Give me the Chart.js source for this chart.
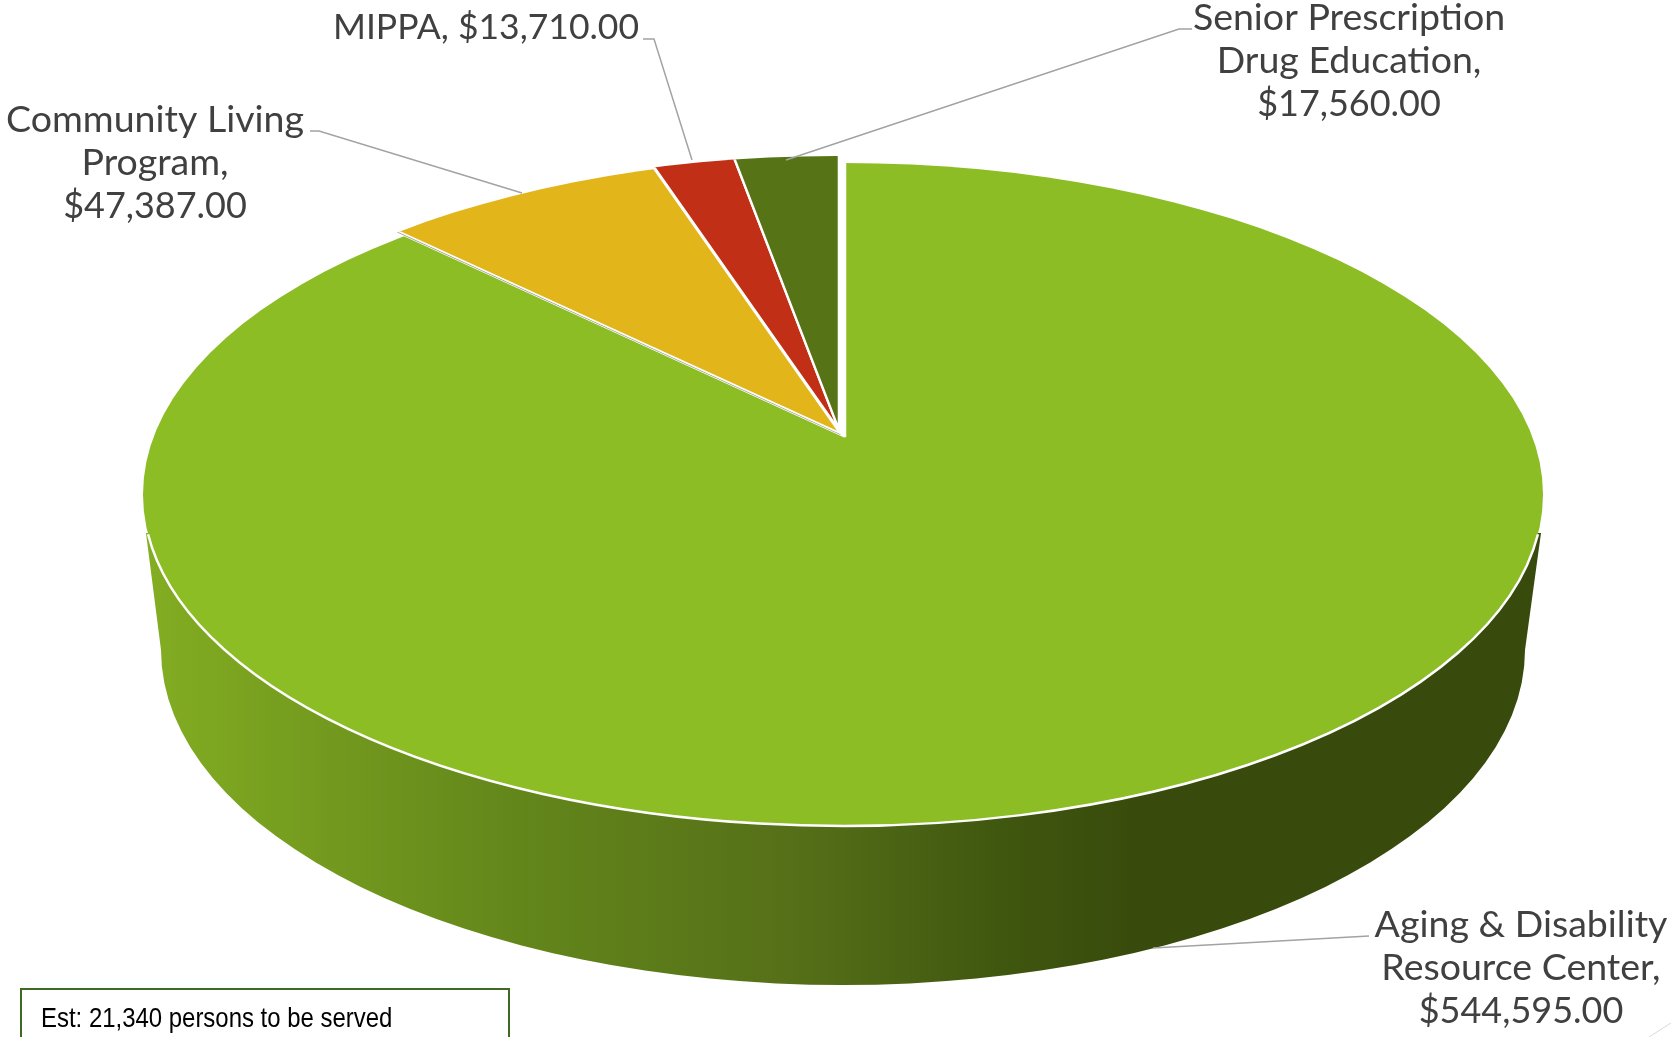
<!DOCTYPE html>
<html lang="en">
<head>
    <meta charset="UTF-8">
    <title>Program funding</title>
    <script src="https://cdn.jsdelivr.net/npm/chart.js"></script>
    <style>
        html, body { margin: 0; padding: 0; background: #fff; overflow: hidden; }
        #wrap { position: relative; width: 1671px; height: 1037px; overflow: hidden; }
        #note {
            position: absolute; left: 20px; top: 988px; width: 486px; height: 70px;
            border: 2px solid #3f6a22; box-sizing: content-box;
            font-family: "Liberation Sans", Arial, sans-serif; font-size: 28px; color: #000;
        }
        #note span { position: absolute; left: 19px; top: 12px; display: block; white-space: nowrap; transform-origin: left top; transform: scaleX(0.855); }
    </style>
</head>
<body>
<div id="wrap">
    <canvas id="pie" width="1671" height="1037"></canvas>
    <div id="note"><span>Est: 21,340 persons to be served</span></div>
</div>
<script>
const categories = ['Aging & Disability Resource Center', 'Community Living Program', 'MIPPA', 'Senior Prescription Drug Education'];
const funding = [544595, 47387, 13710, 17560];
const colors = ['#8cbd24', '#e2b61a', '#c13016', '#567316'];
const labelBreaks = [['Aging & Disability', 'Resource Center,'], ['Community Living', 'Program,'], ['MIPPA,'], ['Senior Prescription', 'Drug Education,']];

// top face of the pie, and where the slices meet
const top3d = { cx: 843, cy: 494.5, rx: 700, ry: 331.5 };
const bottom3d = { cx: 843, cy: 650, rx: 682, ry: 335 };
const mainApex = { x: 845, y: 437 };
const smallShift = { x: -6, y: -7 };
const yellowShift = { x: -1, y: -6 };
const squash = 0.464, stretch = 1.7;

// label centre x, first line centre y, then the leader line
const labelPos = [
    { x: 1521, y: 925, leader: [[1369, 936], [1153, 948]] },
    { x: 155, y: 120, leader: [[310, 131], [319, 131], [522, 193]] },
    { x: 486, y: 28, leader: [[643, 39], [654, 39], [692, 160]] },
    { x: 1349, y: 18, leader: [[1192, 29], [1179, 29], [786, 160]] }
];

function money(v) {
    return '$' + v.toLocaleString('en-US', { minimumFractionDigits: 2 });
}

function drawWall(ctx) {
    const g = ctx.createLinearGradient(146, 0, 1150, 0);
    g.addColorStop(0, '#83ad22');
    g.addColorStop(0.35, '#64881b');
    g.addColorStop(0.65, '#556f18');
    g.addColorStop(0.85, '#40570f');
    g.addColorStop(1, '#384a0c');
    ctx.save();
    ctx.fillStyle = g;
    ctx.beginPath();
    ctx.moveTo(146, 533);
    ctx.lineTo(bottom3d.cx - bottom3d.rx, bottom3d.cy);
    ctx.ellipse(bottom3d.cx, bottom3d.cy, bottom3d.rx, bottom3d.ry, 0, Math.PI, 0, true);
    ctx.lineTo(1541, 533);
    ctx.closePath();
    ctx.fill();
    ctx.restore();
}

function drawRim(ctx) {
    ctx.save();
    ctx.strokeStyle = '#fff';
    ctx.lineWidth = 2.5;
    ctx.beginPath();
    ctx.ellipse(top3d.cx, top3d.cy, top3d.rx, top3d.ry, 0, 0.12, Math.PI - 0.12);
    ctx.stroke();
    ctx.restore();
}

function pieSpace(chart, ctx, apex) {
    const area = chart.chartArea;
    ctx.translate(apex.x, apex.y);
    ctx.scale(stretch, stretch * squash);
    ctx.translate(-(area.left + area.right) / 2, -(area.top + area.bottom) / 2);
}

function clipTop(ctx, shift) {
    ctx.beginPath();
    ctx.ellipse(top3d.cx + shift.x, top3d.cy + shift.y, top3d.rx, top3d.ry, 0, 0, Math.PI * 2);
    ctx.clip();
}

function drawSlice(chart, el, apex, shift) {
    const ctx = chart.ctx;
    ctx.save();
    clipTop(ctx, shift);
    pieSpace(chart, ctx, apex);
    el.draw(ctx);
    ctx.restore();
}

// thin dark seam in the gap between the big slice and the yellow one
function drawSeam(chart, el, apex) {
    const ctx = chart.ctx;
    ctx.save();
    clipTop(ctx, yellowShift);
    pieSpace(chart, ctx, apex);
    ctx.strokeStyle = '#8f8f78';
    ctx.lineWidth = 0.7;
    ctx.beginPath();
    ctx.moveTo(el.x, el.y);
    ctx.lineTo(el.x + 1000 * Math.cos(el.endAngle), el.y + 1000 * Math.sin(el.endAngle));
    ctx.stroke();
    ctx.restore();
}

const pie3d = {
    id: 'pie3d',
    beforeDatasetDraw(chart) {
        const ctx = chart.ctx;
        const arcs = chart.getDatasetMeta(0).data;
        drawWall(ctx);
        drawSlice(chart, arcs[0], mainApex, { x: 0, y: 0 });
        drawRim(ctx);
        const apex = { x: mainApex.x + smallShift.x, y: mainApex.y + smallShift.y };
        // yellow sits nearer the big slice than the other two
        const yellowApex = { x: apex.x + 1, y: apex.y + 3 };
        drawSlice(chart, arcs[1], yellowApex, yellowShift);
        drawSeam(chart, arcs[0], { x: yellowApex.x + 0.5, y: yellowApex.y + 1.6 });
        drawSlice(chart, arcs[2], apex, smallShift);
        drawSlice(chart, arcs[3], apex, smallShift);
        return false;
    },
    afterDraw(chart) {
        const ctx = chart.ctx;
        ctx.save();
        ctx.strokeStyle = '#a3a3a3';
        ctx.lineWidth = 1.5;
        labelPos.forEach(p => {
            ctx.beginPath();
            p.leader.forEach((q, i) => i ? ctx.lineTo(q[0], q[1]) : ctx.moveTo(q[0], q[1]));
            ctx.stroke();
        });
        ctx.fillStyle = '#404040';
        ctx.textAlign = 'center';
        ctx.textBaseline = 'middle';
        labelPos.forEach((p, i) => {
            const names = labelBreaks[i];
            if (names.length === 1) {
                ctx.font = '35.5px Lato';
                ctx.fillText(names[0] + ' ' + money(funding[i]), p.x, p.y);
                return;
            }
            ctx.font = '37.5px Lato';
            names.forEach((t, n) => ctx.fillText(t, p.x, p.y + n * 43));
            ctx.font = '36px Lato';
            ctx.fillText(money(funding[i]), p.x, p.y + names.length * 43);
        });
        // slide decoration in the corner
        ctx.strokeStyle = '#d9d9d9';
        ctx.lineWidth = 1;
        ctx.beginPath();
        ctx.moveTo(1649, 1037);
        ctx.lineTo(1671, 1023);
        ctx.stroke();
        ctx.restore();
    }
};

new Chart(document.getElementById('pie'), {
    type: 'pie',
    data: {
        labels: categories,
        datasets: [{ data: funding, backgroundColor: colors, borderColor: '#fff', borderWidth: 1.5 }]
    },
    options: {
        responsive: false,
        animation: false,
        devicePixelRatio: 1,
        plugins: { legend: { display: false }, tooltip: { enabled: false } }
    },
    plugins: [pie3d]
});
</script>
</body>
</html>
